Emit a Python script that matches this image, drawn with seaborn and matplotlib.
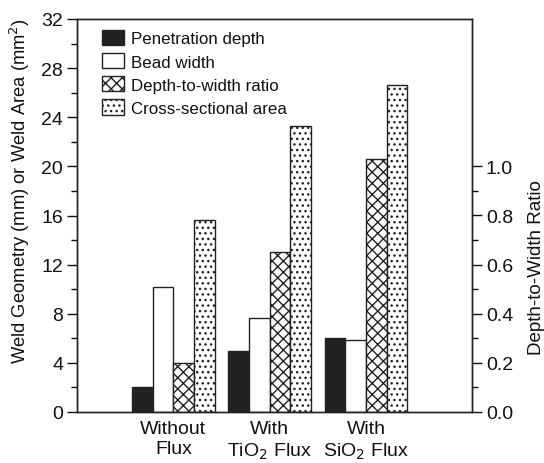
import matplotlib
matplotlib.use("Agg")
import matplotlib.pyplot as plt
import seaborn as sns
import pandas as pd
from matplotlib.patches import Patch
from matplotlib.ticker import MultipleLocator, FixedLocator

categories = ["Without\nFlux", "With\nTiO$_2$ Flux", "With\nSiO$_2$ Flux"]
series = ["Penetration depth", "Bead width", "Depth-to-width ratio", "Cross-sectional area"]
penetration = [2.05, 4.97, 6.05]
bead_width = [10.15, 7.65, 5.85]
ratio = [0.20, 0.65, 1.03]
area = [15.6, 23.25, 26.65]

ratio_scale = 20.0  # right axis 0..1.6 maps to left 0..32

rows = []
for i, c in enumerate(categories):
    rows.append((c, series[0], penetration[i]))
    rows.append((c, series[1], bead_width[i]))
    rows.append((c, series[2], ratio[i] * ratio_scale))
    rows.append((c, series[3], area[i]))
df = pd.DataFrame(rows, columns=["cat", "series", "value"])

sns.set_style("ticks")
plt.rcParams["font.family"] = ["Liberation Sans", "DejaVu Sans"]
plt.rcParams["text.color"] = "#111111"
plt.rcParams["axes.labelcolor"] = "#111111"
plt.rcParams["xtick.color"] = "#111111"
plt.rcParams["ytick.color"] = "#111111"
plt.rcParams["hatch.color"] = "#222222"
plt.rcParams["hatch.linewidth"] = 1.0

fig = plt.figure(figsize=(5.44, 4.64), dpi=100)
ax = fig.add_axes([77 / 544, 1 - 413 / 464, (472 - 77) / 544, (413 - 20) / 464])

faces = ["#222222", "white", "white", "white"]
hatches = [None, None, "xxx", "..."]
sns.barplot(data=df, x="cat", y="value", hue="series", hue_order=series,
            order=categories, width=0.86, palette=["#222222", "white", "white", "white"],
            edgecolor="#222222", linewidth=1.0, saturation=1, legend=False, ax=ax)

for j, cont in enumerate(ax.containers):
    for p in cont:
        p.set_facecolor(faces[j])
        p.set_edgecolor("#222222")
        if hatches[j]:
            p.set_hatch(hatches[j])

ax.set_xlim(-1.0, 3.1)
ax.set_ylim(0, 32)
ax.yaxis.set_major_locator(MultipleLocator(4))
ax.yaxis.set_minor_locator(MultipleLocator(2))
ax.tick_params(axis="y", which="major", length=7, width=1, labelsize=14, direction="out", pad=3)
ax.tick_params(axis="y", which="minor", length=4.5, width=1, direction="out")
ax.tick_params(axis="x", length=0, labelsize=14, pad=6)
ax.set_xlabel("")
ax.set_ylabel("Weld Geometry (mm) or Weld Area (mm$^2$)", fontsize=13.2)
ax.yaxis.set_label_coords(-0.115, 0.565)
for s in ax.spines.values():
    s.set_linewidth(1.0)
    s.set_color("#222222")

ax2 = ax.twinx()
ax2.set_ylim(0, 32 / ratio_scale)
ax2.yaxis.set_major_locator(FixedLocator([0.0, 0.2, 0.4, 0.6, 0.8, 1.0]))
ax2.yaxis.set_minor_locator(FixedLocator([0.1, 0.3, 0.5, 0.7, 0.9]))
ax2.set_yticklabels(["0.0", "0.2", "0.4", "0.6", "0.8", "1.0"])
ax2.tick_params(axis="y", which="major", length=7, width=1, labelsize=14, direction="out", pad=3)
ax2.tick_params(axis="y", which="minor", length=4.5, width=1, direction="out")
ax2.set_ylabel("Depth-to-Width Ratio", fontsize=13.5)
ax2.yaxis.set_label_coords(1.142, 0.37)
for s in ax2.spines.values():
    s.set_linewidth(1.0)
    s.set_color("#222222")

handles = [Patch(facecolor=faces[j], edgecolor="#222222", hatch=hatches[j], linewidth=1.0)
           for j in range(4)]
leg = ax.legend(handles, series, loc="upper left", bbox_to_anchor=(0.037, 0.998),
                frameon=False, fontsize=12.2, handlelength=1.3, handleheight=1.0,
                handletextpad=0.45, labelspacing=0.4, borderaxespad=0.2)

fig.savefig("out.png", dpi=100)
